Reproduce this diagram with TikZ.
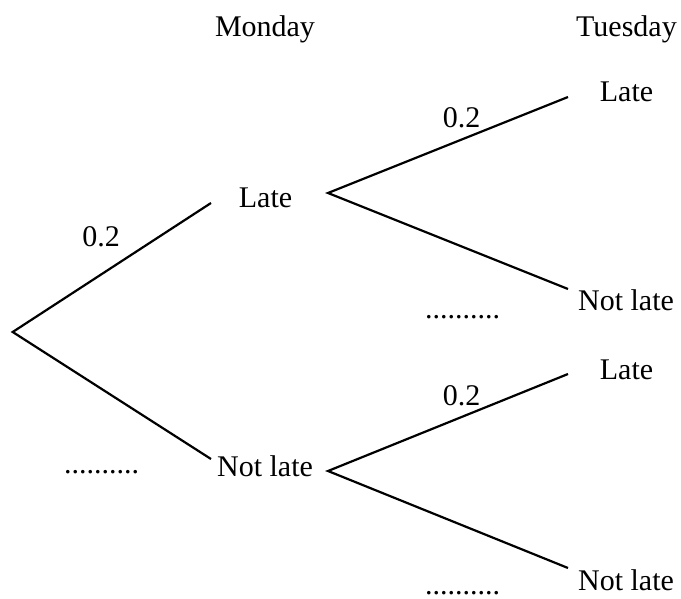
\documentclass[tikz,border=0pt]{standalone}
\usepackage{fontspec}
\setmainfont{Liberation Serif}
\begin{document}
\begin{tikzpicture}[x=1pt,y=-1pt,
  lbl/.style={anchor=base,inner sep=0pt,font=\fontsize{30}{36}\selectfont},
  dotlbl/.style={lbl,text depth=0pt},
  branch/.style={line width=2.2pt,line join=miter}]
\useasboundingbox (0,0) rectangle (681,599);
% headings
\node[lbl] (mon) at (265,37) {Monday};
\node[lbl] (tue) at (626.5,37) {Tuesday};
% outcome labels
\node[lbl] (mL) at (265.5,208) {Late};
\node[lbl] (mN) at (265,476) {Not late};
\node[lbl] (tLL) at (626.5,102) {Late};
\node[lbl] (tLN) at (626,310) {Not late};
\node[lbl] (tNL) at (626.5,379) {Late};
\node[lbl] (tNN) at (626,590) {Not late};
% probabilities
\node[lbl] (p1) at (101,247) {0.2};
\node[lbl] (p2) at (461.5,128) {0.2};
\node[lbl] (p3) at (461.5,405) {0.2};
\node[dotlbl] (d1) at (101.5,473) {..........};
\node[dotlbl] (d2) at (462.5,319) {..........};
\node[dotlbl] (d3) at (462.5,594) {..........};
% branch points
\coordinate (root) at (12.7,332);
\coordinate (aL) at (211,203);
\coordinate (aN) at (211,459);
\coordinate (sL) at (328,193);
\coordinate (sN) at (328,471);
\coordinate (eLL) at (568,97);
\coordinate (eLN) at (568,289);
\coordinate (eNL) at (568,374);
\coordinate (eNN) at (568,568);
\draw[branch] (aL) -- (root) -- (aN);
\draw[branch] (eLL) -- (sL) -- (eLN);
\draw[branch] (eNL) -- (sN) -- (eNN);
\end{tikzpicture}
\end{document}
